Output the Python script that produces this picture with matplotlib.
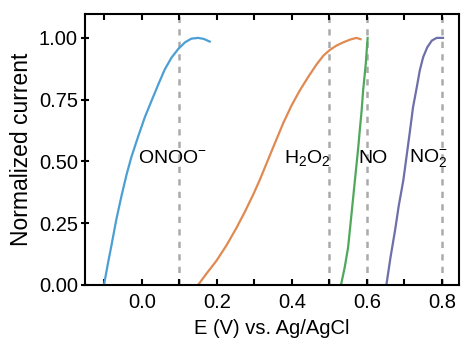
import matplotlib.pyplot as plt
from matplotlib.ticker import MultipleLocator

plt.rcParams['font.family'] = ['Liberation Sans', 'DejaVu Sans']
plt.rcParams['mathtext.fontset'] = 'custom'
plt.rcParams['mathtext.rm'] = 'Liberation Sans'

# ONOO- (blue)
e_onoo = [-0.101, -0.090, -0.081, -0.068, -0.054, -0.041, -0.028, -0.010, 0.008, 0.026,
          0.044, 0.061, 0.079, 0.097, 0.115, 0.132, 0.150, 0.165, 0.181]
i_onoo = [0.0, 0.090, 0.160, 0.265, 0.362, 0.445, 0.517, 0.600, 0.679, 0.746,
          0.812, 0.872, 0.920, 0.955, 0.982, 0.997, 1.0, 0.996, 0.985]
# H2O2 (orange)
e_h2o2 = [0.150, 0.172, 0.199, 0.226, 0.252, 0.275, 0.297, 0.315, 0.332, 0.355, 0.377,
          0.399, 0.421, 0.444, 0.466, 0.484, 0.501, 0.519, 0.537, 0.555, 0.572, 0.583]
i_h2o2 = [0.0, 0.045, 0.098, 0.161, 0.230, 0.297, 0.366, 0.427, 0.490, 0.575, 0.655,
          0.726, 0.787, 0.843, 0.893, 0.928, 0.951, 0.969, 0.982, 0.993, 1.0, 0.995]
# NO (green)
e_no = [0.531, 0.541, 0.550, 0.559, 0.568, 0.577, 0.581, 0.586, 0.590, 0.597, 0.602]
i_no = [0.0, 0.072, 0.153, 0.287, 0.422, 0.557, 0.625, 0.706, 0.787, 0.895, 1.0]
# NO2- (purple)
e_no2 = [0.652, 0.663, 0.675, 0.685, 0.697, 0.706, 0.715, 0.723, 0.733, 0.741,
         0.750, 0.761, 0.773, 0.786, 0.803]
i_no2 = [0.0, 0.112, 0.22, 0.321, 0.422, 0.523, 0.625, 0.719, 0.8, 0.868,
         0.922, 0.962, 0.989, 1.0, 1.0]

vlines = [0.1, 0.5, 0.6, 0.8]
labels = [(0.083, "ONOO$^{-}$"), (0.44, "H$_2$O$_2$"), (0.617, "NO"), (0.765, "NO$_2^{-}$")]

fig = plt.figure(figsize=(4.61, 3.40), dpi=100)
ax = fig.add_axes([0.184, 0.162, 0.812, 0.797])

for x in vlines:
    ax.axvline(x, color='#aaaaaa', lw=1.8, ls=(0, (2.5, 2.5)), zorder=1)

ax.plot(e_onoo, i_onoo, color='#4c9fd5', lw=1.6, zorder=2)
ax.plot(e_h2o2, i_h2o2, color='#e08a52', lw=1.6, zorder=2)
ax.plot(e_no, i_no, color='#4fa85c', lw=1.6, zorder=2)
ax.plot(e_no2, i_no2, color='#6d70a8', lw=1.6, zorder=2)

for x, t in labels:
    ax.text(x, 0.51, t, ha='center', va='center', fontsize=14, zorder=3)

ax.set_xlim(-0.152, 0.846)
ax.set_ylim(0, 1.097)
ax.xaxis.set_major_locator(MultipleLocator(0.2))
ax.xaxis.set_minor_locator(MultipleLocator(0.1))
ax.set_yticks([0, 0.25, 0.5, 0.75, 1.0])
ax.xaxis.set_major_formatter(plt.FuncFormatter(lambda v, p: f"{v:.1f}"))
ax.yaxis.set_major_formatter(plt.FuncFormatter(lambda v, p: f"{v:.2f}"))
ax.tick_params(which='both', direction='in', top=True, right=False, width=1.5,
               length=4, labelsize=14.5)
ax.tick_params(axis='x', which='both', pad=6)
ax.tick_params(axis='y', direction='inout', length=6, pad=2)
for s in ax.spines.values():
    s.set_linewidth(1.5)

ax.set_xlabel("E (V) vs. Ag/AgCl", fontsize=14.5, labelpad=5)
ax.set_ylabel("Normalized current", fontsize=16.5, labelpad=4)

fig.savefig("out.png", dpi=100)
